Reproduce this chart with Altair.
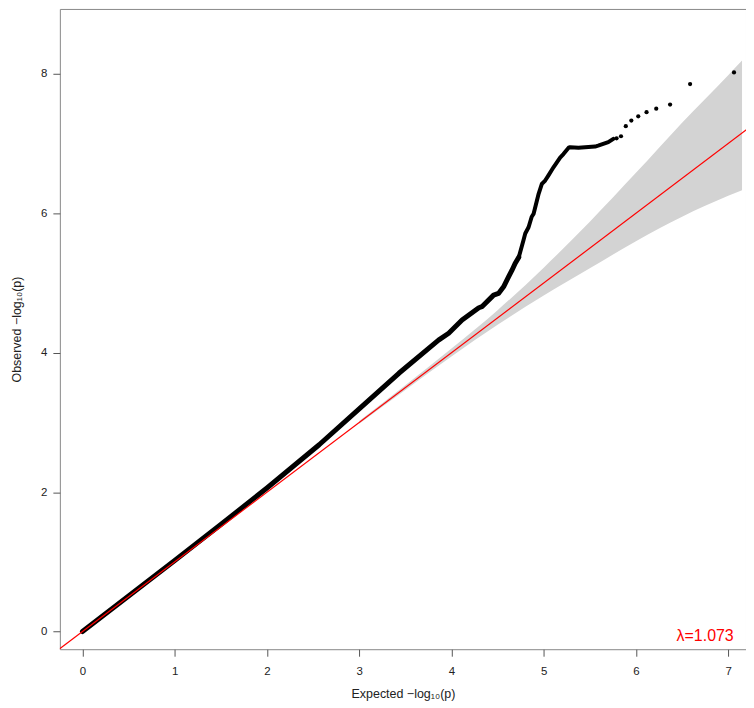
import altair as alt
import pandas as pd

# Dense part of the observed curve (expected, observed)
dense_x = [0.0, 0.5, 1.0, 1.5, 2.0, 2.566, 3.0, 3.43, 3.86, 3.97, 4.115, 4.297, 4.33, 4.457, 4.51, 4.565, 4.62, 4.655, 4.69, 4.73]
dense_y = [0.0, 0.51, 1.02, 1.535, 2.06, 2.68, 3.195, 3.705, 4.18, 4.28, 4.468, 4.645, 4.66, 4.826, 4.85, 4.945, 5.09, 5.18, 5.28, 5.37]

# Upper part where points start to separate
mid_x = [4.73, 4.78, 4.80, 4.836, 4.87, 4.89, 4.945, 4.98, 5.016, 5.05, 5.106, 5.178, 5.214, 5.27, 5.286, 5.377, 5.557, 5.59, 5.70, 5.755]
mid_y = [5.37, 5.61, 5.71, 5.80, 5.95, 5.99, 6.28, 6.42, 6.47, 6.54, 6.66, 6.80, 6.85, 6.94, 6.947, 6.94, 6.957, 6.97, 7.02, 7.067]

# Sparse tail points
tail_x = [5.79, 5.838, 5.89, 5.95, 6.025, 6.115, 6.22, 6.37, 6.587, 7.063]
tail_y = [7.076, 7.105, 7.25, 7.33, 7.39, 7.45, 7.50, 7.56, 7.854, 8.02]

# Confidence band (expected, lower, upper)
band_x = [3.0, 3.5, 4.0, 4.5, 5.0, 5.5, 6.0, 6.5, 7.0, 7.15]
band_lo = [2.98, 3.465, 3.945, 4.40, 4.82, 5.21, 5.60, 5.95, 6.25, 6.33]
band_hi = [3.02, 3.535, 4.06, 4.61, 5.22, 5.88, 6.58, 7.30, 7.98, 8.19]

# Reference line y = x
ref_x = [-0.3, 7.3]

lambda_label = "λ=1.073"
lambda_pos = (7.06, -0.134)

x_ticks = [0, 1, 2, 3, 4, 5, 6, 7]
y_ticks = [0, 2, 4, 6, 8]

FONT = "Liberation Sans"
xs = alt.Scale(domain=[-0.245, 7.193], nice=False, zero=False)
ys = alt.Scale(domain=[-0.253, 8.931], nice=False, zero=False)

x_axis = alt.Axis(values=x_ticks, format="d", title="Expected  −log₁₀(p)", grid=False, domain=False,
                  tickSize=7, tickColor="#555", labelPadding=9, labelFontSize=11.5,
                  labelColor="#222", titleFontSize=12.5, titleFontWeight="normal",
                  titleColor="#222", titlePadding=11, labelFont=FONT, titleFont=FONT)
y_axis = alt.Axis(values=y_ticks, format="d", title="Observed  −log₁₀(p)", grid=False, domain=False,
                  tickSize=7, tickColor="#555", labelPadding=6, labelFontSize=11.5,
                  labelColor="#222", labelAngle=0, titleFontSize=12.5, titleFontWeight="normal",
                  titleColor="#222", titlePadding=17, labelFont=FONT, titleFont=FONT)

band_df = pd.DataFrame({"x": band_x, "lo": band_lo, "hi": band_hi})
dense_df = pd.DataFrame({"x": dense_x, "y": dense_y})
mid_df = pd.DataFrame({"x": mid_x, "y": mid_y})
tail_df = pd.DataFrame({"x": tail_x, "y": tail_y})
ref_df = pd.DataFrame({"x": ref_x, "y": ref_x})
lam_df = pd.DataFrame({"x": [lambda_pos[0]], "y": [lambda_pos[1]], "t": [lambda_label]})

band = alt.Chart(band_df).mark_area(color="#d3d3d3", opacity=1, interpolate="monotone").encode(
    x=alt.X("x:Q", scale=xs, axis=x_axis),
    y=alt.Y("lo:Q", scale=ys, axis=y_axis),
    y2="hi:Q",
)

dense = alt.Chart(dense_df).mark_line(color="black", strokeWidth=5, strokeCap="round",
                                      strokeJoin="round").encode(
    x=alt.X("x:Q", scale=xs), y=alt.Y("y:Q", scale=ys))

mid = alt.Chart(mid_df).mark_line(color="black", strokeWidth=4, strokeCap="round",
                                  strokeJoin="round").encode(
    x=alt.X("x:Q", scale=xs), y=alt.Y("y:Q", scale=ys))

tail = alt.Chart(tail_df).mark_circle(color="black", size=18, opacity=1).encode(
    x=alt.X("x:Q", scale=xs), y=alt.Y("y:Q", scale=ys))

ref = alt.Chart(ref_df).mark_line(color="#ff0000", strokeWidth=1.2, clip=True).encode(
    x=alt.X("x:Q", scale=xs), y=alt.Y("y:Q", scale=ys))

lam = alt.Chart(lam_df).mark_text(color="#ff0000", fontSize=16, font=FONT, align="right",
                                  baseline="alphabetic").encode(
    x=alt.X("x:Q", scale=xs), y=alt.Y("y:Q", scale=ys), text="t:N")

chart = alt.layer(band, dense, mid, tail, ref, lam).properties(
    width=688, height=642, autosize="none",
    padding={"left": 52, "top": 0, "right": 0, "bottom": 56},
).configure_view(stroke="#888", strokeWidth=1)

chart.save("out.html", embed_options={"renderer": "svg", "actions": False})
